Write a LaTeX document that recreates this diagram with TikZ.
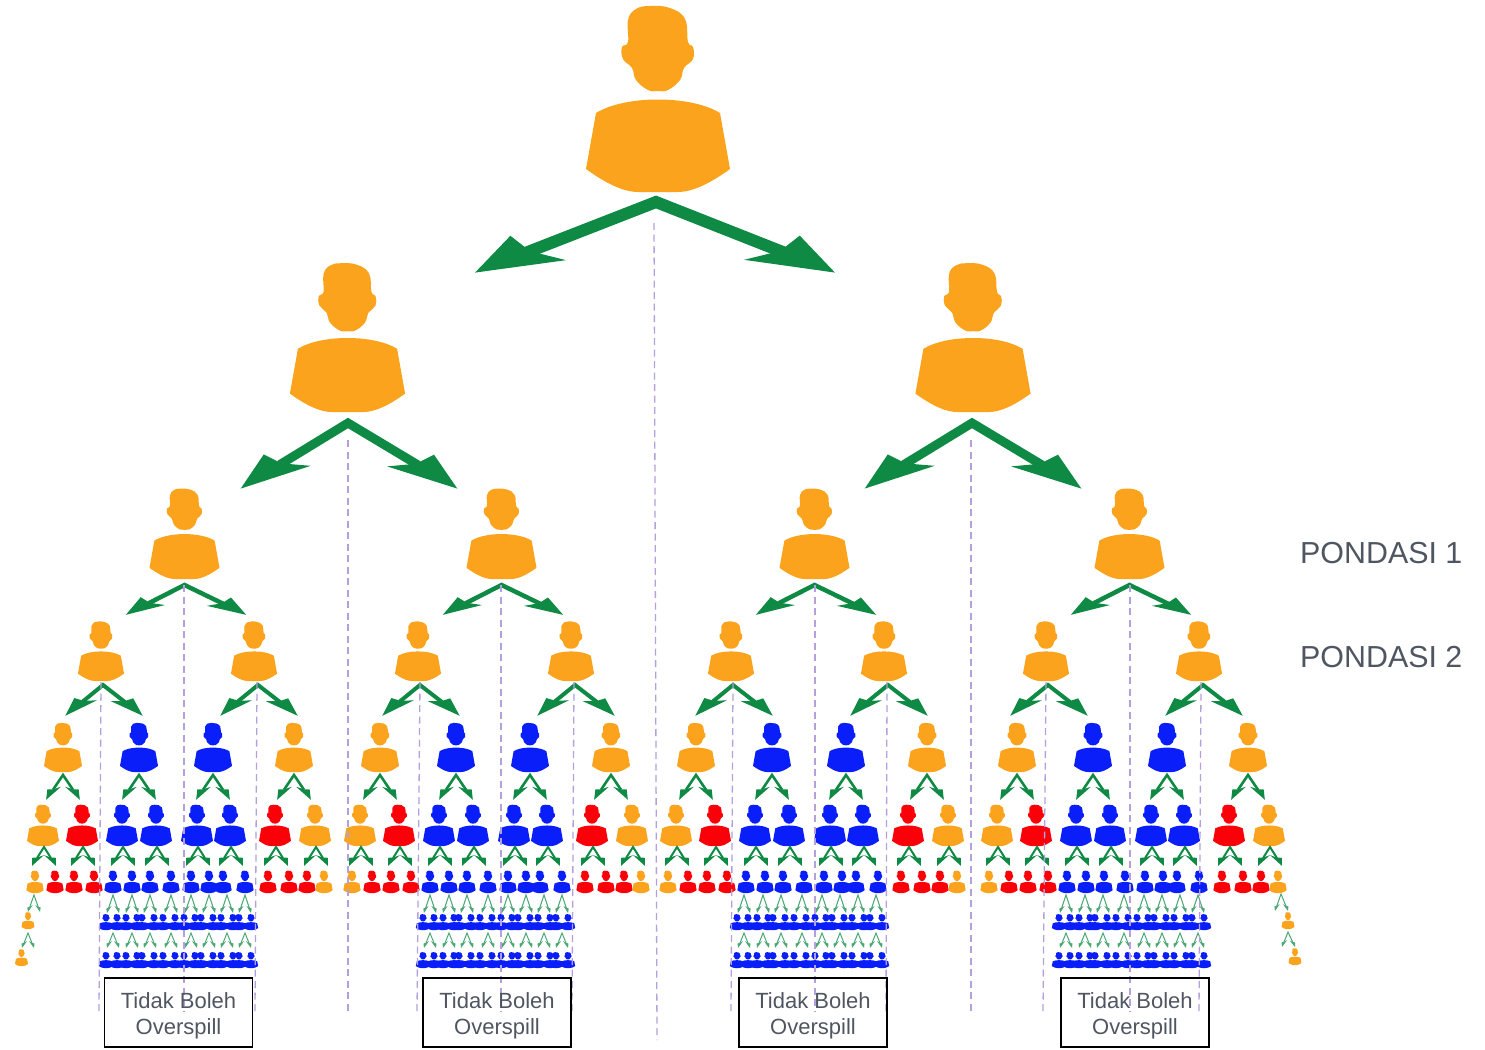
\documentclass[tikz,border=0pt]{standalone}
\usepackage{fontspec}
\setmainfont{Liberation Sans}
\usetikzlibrary{arrows.meta}
\definecolor{oranye}{HTML}{FBA31C}
\definecolor{biru}{HTML}{0A1EFA}
\definecolor{merah}{HTML}{FA0008}
\definecolor{flowgreen}{HTML}{0F8A45}
\definecolor{guidepurple}{HTML}{B3A0DC}
\definecolor{labelgrey}{HTML}{4F5661}

\newcommand{\forkflow}[7]{%
  \coordinate (#1) at (#2,#3);
  \coordinate (#1_l) at (#4,#6);
  \coordinate (#1_r) at (#5,#6);
  \draw[#7] (#1_l) -- (#1) -- (#1_r);
}

\begin{document}
\begin{tikzpicture}[
  x=1pt, y=-1pt,
  pics/person/.style = {code = {
    \fill plot[smooth cycle, tension=.7] coordinates {(-8,-186) (12,-184) (27,-173) (30,-150) (35,-145) (35,-133) (26,-124) (22,-112) (10,-102) (0,-101) (-10,-102) (-22,-112) (-26,-124) (-35,-133) (-36,-145) (-30,-150) (-30,-172) (-22,-183)};
    \fill (-62,-79) .. controls (-33,-97) and (33,-97) .. (62,-79) -- (72,-23) .. controls (50,-7) and (33,0) .. (20,0) -- (-20,0) .. controls (-33,0) and (-50,-7) .. (-72,-23) -- cycle;
  }},
  flow/.style n args = {4}{draw=flowgreen, line width=#1, line join=miter,
    arrows={{Stealth[length=#2,width=#3,inset=#4,slant=-1]}-{Stealth[length=#2,width=#3,inset=#4,slant=1]}}},
  flow_a/.style = {flow={12pt}{67pt}{40pt}{7pt}},
  flow_b/.style = {flow={9pt}{54pt}{32pt}{5pt}},
  flow_c/.style = {flow={4.5pt}{30pt}{17pt}{3pt}},
  flow_d/.style = {flow={4pt}{26pt}{15pt}{2pt}},
  flow_e/.style = {flow={2.6pt}{14pt}{9pt}{1pt}},
  flow_f/.style = {flow={2pt}{11pt}{8pt}{1pt}},
  flow_g/.style = {flow={1pt}{6pt}{4pt}{.5pt}, draw=flowgreen!75},
  guide/.style = {draw=guidepurple, line width=1.3pt, dash pattern=on 7pt off 4.5pt},
  overspill/.style = {draw=black, line width=1.5pt, minimum width=148pt, minimum height=69pt, align=center, text=labelgrey, font=\fontsize{22}{26}\selectfont, text height=48pt, text depth=5pt},
  pondasi/.style = {anchor=west, inner sep=0pt, text=labelgrey, font=\fontsize{30.4}{36}\selectfont}
  ]
  \useasboundingbox (0,0) rectangle (1485,1049);

  \pic[fill=oranye] (top) at (658,192) {person};
  \pic[fill=oranye, scale=.8] (left) at (347.5,412) {person};
  \pic[fill=oranye, scale=.8] (right) at (973,412) {person};
  \forkflow{fork_top}{656}{202}{474}{836}{273}{flow_a}
  \forkflow{fork_left}{348}{423}{240}{458}{489}{flow_b}
  \forkflow{fork_right}{972}{423}{864}{1082}{489}{flow_b}

  \foreach \g/\a/\b/\c/\d in {1/184.5/0/0/0, 2/501.5/317/317/317, 3/814.5/630/633/631, 4/1129.5/945/954/953} {
    \pic[fill=oranye, scale=.486] (lead_\g) at (\a,579) {person};
    \forkflow{fork_\g}{\a}{585}{\a-59}{\a+62}{615}{flow_c}

    \foreach \x/\k [count=\i] in {101/103, 254/258} {
      \pic[fill=oranye, scale=.32] (pond_\g_\i) at (\x+\b,681) {person};
      \forkflow{fork_\g_\i}{\k+\b}{685}{\k+\b-38}{\k+\b+40}{716}{flow_d}
    }

    \foreach \x/\col [count=\i] in {63/oranye, 139/biru, 213/biru, 294/oranye} {
      \pic[fill=\col, scale=.264] (gen_\g_\i) at (\x+\c,772) {person};
      \forkflow{fork_e_\g_\i}{\x+\c}{775}{\x+\c-17}{\x+\c+17}{800}{flow_e}
    }

    \foreach \x/\col [count=\i] in {43/oranye, 82/merah, 122/biru, 156/biru, 197/biru, 230/biru, 275/merah, 315/oranye} {
      \pic[fill=\col, scale=.222] (sub_\g_\i) at (\x+\c,846) {person};
      \forkflow{fork_f_\g_\i}{\x+\c+1}{847}{\x+\c-11}{\x+\c+13}{866}{flow_f}
    }

    \foreach \x/\col [count=\i] in {35/oranye, 55/merah, 74/merah, 94/merah, 113/biru, 132/biru, 150/biru, 171/biru, 191/biru, 209/biru, 223/biru, 245/biru, 268/merah, 289/merah, 307/merah, 324/oranye} {
      \pic[fill=\col, scale=.12] (leaf_\g_\i) at (\x+\c,893) {person};
    }

    % two more rows below the blue part only
    \foreach \x [count=\i] in {113, 132, 150, 171, 191, 209, 227, 245} {
      \forkflow{fork_g_\g_\i}{\x+\d}{895}{\x+\d-6}{\x+\d+6}{913}{flow_g}
      \forkflow{fork_h_\g_\i}{\x+\d}{933}{\x+\d-6}{\x+\d+6}{948}{flow_g}
    }
    \foreach \x [count=\i] in {106, 117, 126, 137, 142, 154, 163, 175, 184, 195, 201, 213, 221, 233, 239, 251} {
      \pic[fill=biru, xscale=.1, yscale=.085] (row_a_\g_\i) at (\x+\d,930) {person};
      \pic[fill=biru, xscale=.1, yscale=.085] (row_b_\g_\i) at (\x+\d,968) {person};
    }
  }

  % the two tails
  \pic[fill=oranye, scale=.09] (tail_l_a) at (28,929) {person};
  \pic[fill=oranye, scale=.09] (tail_l_b) at (21.5,966) {person};
  \pic[fill=oranye, scale=.09] (tail_r_a) at (1288,929) {person};
  \pic[fill=oranye, scale=.09] (tail_r_b) at (1295,965) {person};
  \forkflow{fork_tl_a}{34}{895}{28}{40}{912}{flow_g}
  \forkflow{fork_tl_b}{28}{933}{22}{34}{948}{flow_g}
  \forkflow{fork_tr_a}{1281}{894}{1275}{1288}{911}{flow_g}
  \forkflow{fork_tr_b}{1288}{932}{1282}{1295}{947}{flow_g}

  \foreach \xa/\ya/\xb/\yb [count=\i] in {
    654/223/657/1040, 348/440/348/1011, 971/440/971/1011,
    184/585/184/1011, 501/585/501/1011, 815/585/815/1011, 1130/585/1130/1011,
    101/682/99/1011, 257/682/255/1011, 420/682/417/1011, 574/682/572/1011,
    733/682/731/1011, 887/682/886/1011, 1046/682/1043/1011, 1201/682/1199/1011} {
    \coordinate (guide_\i_a) at (\xa,\ya);
    \coordinate (guide_\i_b) at (\xb,\yb);
    \draw[guide] (guide_\i_a) -- (guide_\i_b);
  }

  \node[overspill] (box_a) at (178.5,1012.5) {Tidak Boleh\\Overspill};
  \node[overspill] (box_b) at (497,1012.5) {Tidak Boleh\\Overspill};
  \node[overspill] (box_c) at (813,1012.5) {Tidak Boleh\\Overspill};
  \node[overspill] (box_d) at (1135,1012.5) {Tidak Boleh\\Overspill};

  \node[pondasi] (pondasi_a) at (1300,553) {PONDASI 1};
  \node[pondasi] (pondasi_b) at (1300,657) {PONDASI 2};

\end{tikzpicture}
\end{document}
